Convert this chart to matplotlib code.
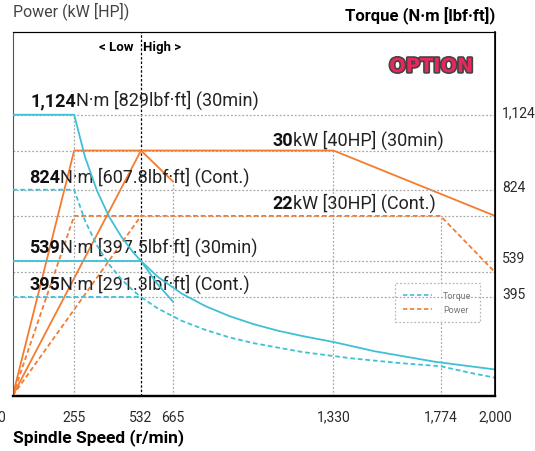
import matplotlib
matplotlib.use('Agg')
import matplotlib.pyplot as plt
import matplotlib.patheffects as pe
from matplotlib.transforms import ScaledTranslation

plt.rcParams['font.family'] = ['Roboto', 'DejaVu Sans']

## Data
# 30 min power [kW], low and high gear
p30_low_rpm = [0, 255, 532, 665]
p30_low_kw = [0, 30, 30, 26.2]
p30_high_rpm = [0, 532, 1330, 2000]
p30_high_kw = [0, 30, 30, 22]
# continuous power [kW]
pc_low_rpm = [0, 255, 532]
pc_low_kw = [0, 22, 22]
pc_high_rpm = [0, 532, 1774, 2000]
pc_high_kw = [0, 22, 22, 15.1]

# 30 min torque [N.m]
t30_low_rpm = [0, 255, 300, 350, 400, 450, 500, 532, 600, 665]
t30_low_nm = [1124, 1124, 955, 819, 716, 637, 573, 539, 447, 376]
t30_high_rpm = [0, 532, 600, 700, 800, 900, 1000, 1100, 1200, 1330, 1500, 1750, 2000]
t30_high_nm = [539, 539, 477, 409, 358, 318, 286, 260, 239, 215, 178, 136, 105]
# continuous torque [N.m]
tc_low_rpm = [0, 255, 300, 350, 400, 450, 500, 532]
tc_low_nm = [824, 824, 700, 600, 525, 467, 420, 395]
tc_high_rpm = [0, 532, 600, 700, 800, 900, 1000, 1200, 1400, 1600, 1774, 1900, 2000]
tc_high_nm = [395, 395, 350, 300, 263, 233, 210, 175, 150, 131, 118, 91, 72]

## Ticks and reference lines
speed_ticks = [0, 255, 532, 665, 1330, 1774, 2000]
speed_labels = ['0', '255', '532', '665', '1,330', '1,774', '2,000']
torque_ticks = [1124, 824, 539, 395]
torque_labels = ['1,124', '824', '539', '395']
power_ticks = [30, 22]
power_labels = ['30', '22']
power_grid = [30, 22, 15.1]
vgrid_power_rpm = [665, 1330, 1774]
vgrid_power_top = [26.2, 30, 22]

cyan = '#3fc0d6'
orange = '#f47b30'
gridc = '#a8a8a8'
dash = (0, (2.6, 1.6))

fig = plt.figure(figsize=(5.35, 4.52), dpi=100)
ax = fig.add_axes([0.0237, 0.1223, 0.9016, 0.8047])  # power axis
ax2 = ax.twinx()  # torque axis

ax.set_xlim(0, 2000)
ax.set_ylim(0, 44.5)
ax2.set_ylim(0, 1455)

# grid lines
for v in power_grid:
    ax.axhline(v, color=gridc, lw=0.9, ls=(0, (1.5, 1.5)), zorder=1)
for v in torque_ticks:
    ax2.axhline(v, color=gridc, lw=0.9, ls=(0, (1.5, 1.5)), zorder=1)
ax.vlines(vgrid_power_rpm, 0, vgrid_power_top, color=gridc, lw=0.9, ls=(0, (1.5, 1.5)), zorder=1)
ax2.vlines(255, 0, 1124, color=gridc, lw=0.9, ls=(0, (1.5, 1.5)), zorder=1)
ax.axvline(532, color='black', lw=0.9, ls=(0, (2, 1.5)), zorder=1)

# power curves
ax.plot(p30_low_rpm, p30_low_kw, color=orange, lw=1.3)
ax.plot(p30_high_rpm, p30_high_kw, color=orange, lw=1.3)
ax.plot(pc_low_rpm, pc_low_kw, color=orange, lw=1.3, ls=dash)
ax.plot(pc_high_rpm, pc_high_kw, color=orange, lw=1.3, ls=dash)

# torque curves
ax2.plot(t30_low_rpm, t30_low_nm, color=cyan, lw=1.3)
ax2.plot(t30_high_rpm, t30_high_nm, color=cyan, lw=1.3)
ax2.plot(tc_low_rpm, tc_low_nm, color=cyan, lw=1.3, ls=dash)
ax2.plot(tc_high_rpm, tc_high_nm, color=cyan, lw=1.3, ls=dash)

# axes styling
ax.spines['left'].set_color('#555555')
ax.spines['top'].set_color('#444444')
ax.spines['bottom'].set_linewidth(1.6)
ax2.spines['bottom'].set_linewidth(1.6)
ax2.spines['left'].set_visible(False)
ax2.spines['right'].set_linewidth(1.2)

ax.set_xticks(speed_ticks, speed_labels)
ax.set_yticks(power_ticks, power_labels)
ax2.set_yticks(torque_ticks, torque_labels)
ax.tick_params(axis='x', length=0, pad=10, labelsize=10, labelcolor='#2a2a2a')
ax.tick_params(axis='y', length=0, pad=9, labelsize=10, labelcolor='#2a2a2a')
ax2.tick_params(axis='y', length=0, pad=5, labelsize=10, labelcolor='#2a2a2a')
up = ScaledTranslation(0, 4 / 100, fig.dpi_scale_trans)
for lab in ax.get_yticklabels() + ax2.get_yticklabels():
    lab.set_transform(lab.get_transform() + up)
lab0 = ax.get_xticklabels()[0]
lab0.set_transform(lab0.get_transform() + ScaledTranslation(-12 / 100, 0, fig.dpi_scale_trans))

# titles
fig.text(12.7 / 535, 1 - 11 / 452, 'Power (kW [HP])', fontsize=11.5, color='#444444', va='center')
fig.text(495 / 535, 1 - 16 / 452, 'Torque (N·m [lbf·ft])', fontsize=12, fontweight='bold',
         ha='right', va='center')
fig.text(13 / 535, 1 - 438 / 452, 'Spindle Speed (r/min)', fontsize=12.5, fontweight='bold',
         va='center')
ax.text(0.2505, 0.96, '< Low', transform=ax.transAxes, fontsize=9.5, fontweight='bold',
        ha='right', va='center')
ax.text(0.2695, 0.96, 'High >', transform=ax.transAxes, fontsize=9.5, fontweight='bold',
        ha='left', va='center')

# OPTION logo
ax.text(0.955, 0.905, 'OPTION', transform=ax.transAxes, fontsize=14, fontweight='bold',
        family='DejaVu Sans', color='#e8285c', ha='right', va='center',
        path_effects=[pe.Stroke(linewidth=2.4, foreground='#444444'), pe.Normal()])

# curve labels
def two_part(x, y, bold, rest):
    t = ax.text(x, y, bold, transform=ax.transAxes, fontsize=13, fontweight='bold',
                color='#111111', va='baseline', zorder=5)
    ax.annotate(rest, xy=(1, 0), xycoords=t, fontsize=13, color='#222222',
                ha='left', va='bottom', zorder=5)

two_part(0.036, 0.799, '1,124', 'N·m [829lbf·ft] (30min)')
two_part(0.034, 0.587, '824', 'N·m [607.8lbf·ft] (Cont.)')
two_part(0.034, 0.394, '539', 'N·m [397.5lbf·ft] (30min)')
two_part(0.034, 0.293, '395', 'N·m [291.3lbf·ft] (Cont.)')
two_part(0.538, 0.689, '30', 'kW [40HP] (30min)')
two_part(0.538, 0.516, '22', 'kW [30HP] (Cont.)')

# legend
h1, = ax.plot([], [], color=cyan, lw=1.2, ls=dash, label='Torque')
h2, = ax.plot([], [], color=orange, lw=1.2, ls=dash, label='Power')
leg = ax.legend(handles=[h1, h2], loc='upper left', bbox_to_anchor=(0.793, 0.311),
                fontsize=6.5, frameon=True, fancybox=False, handlelength=3.2,
                borderpad=0.9, labelspacing=0.6, handletextpad=1.2, borderaxespad=0)
leg.get_frame().set_edgecolor(gridc)
leg.get_frame().set_linestyle((0, (1.5, 1.5)))
leg.get_frame().set_linewidth(0.9)
for txt in leg.get_texts():
    txt.set_color('#777777')
leg.set_zorder(6)

fig.savefig('out.png', dpi=100)
